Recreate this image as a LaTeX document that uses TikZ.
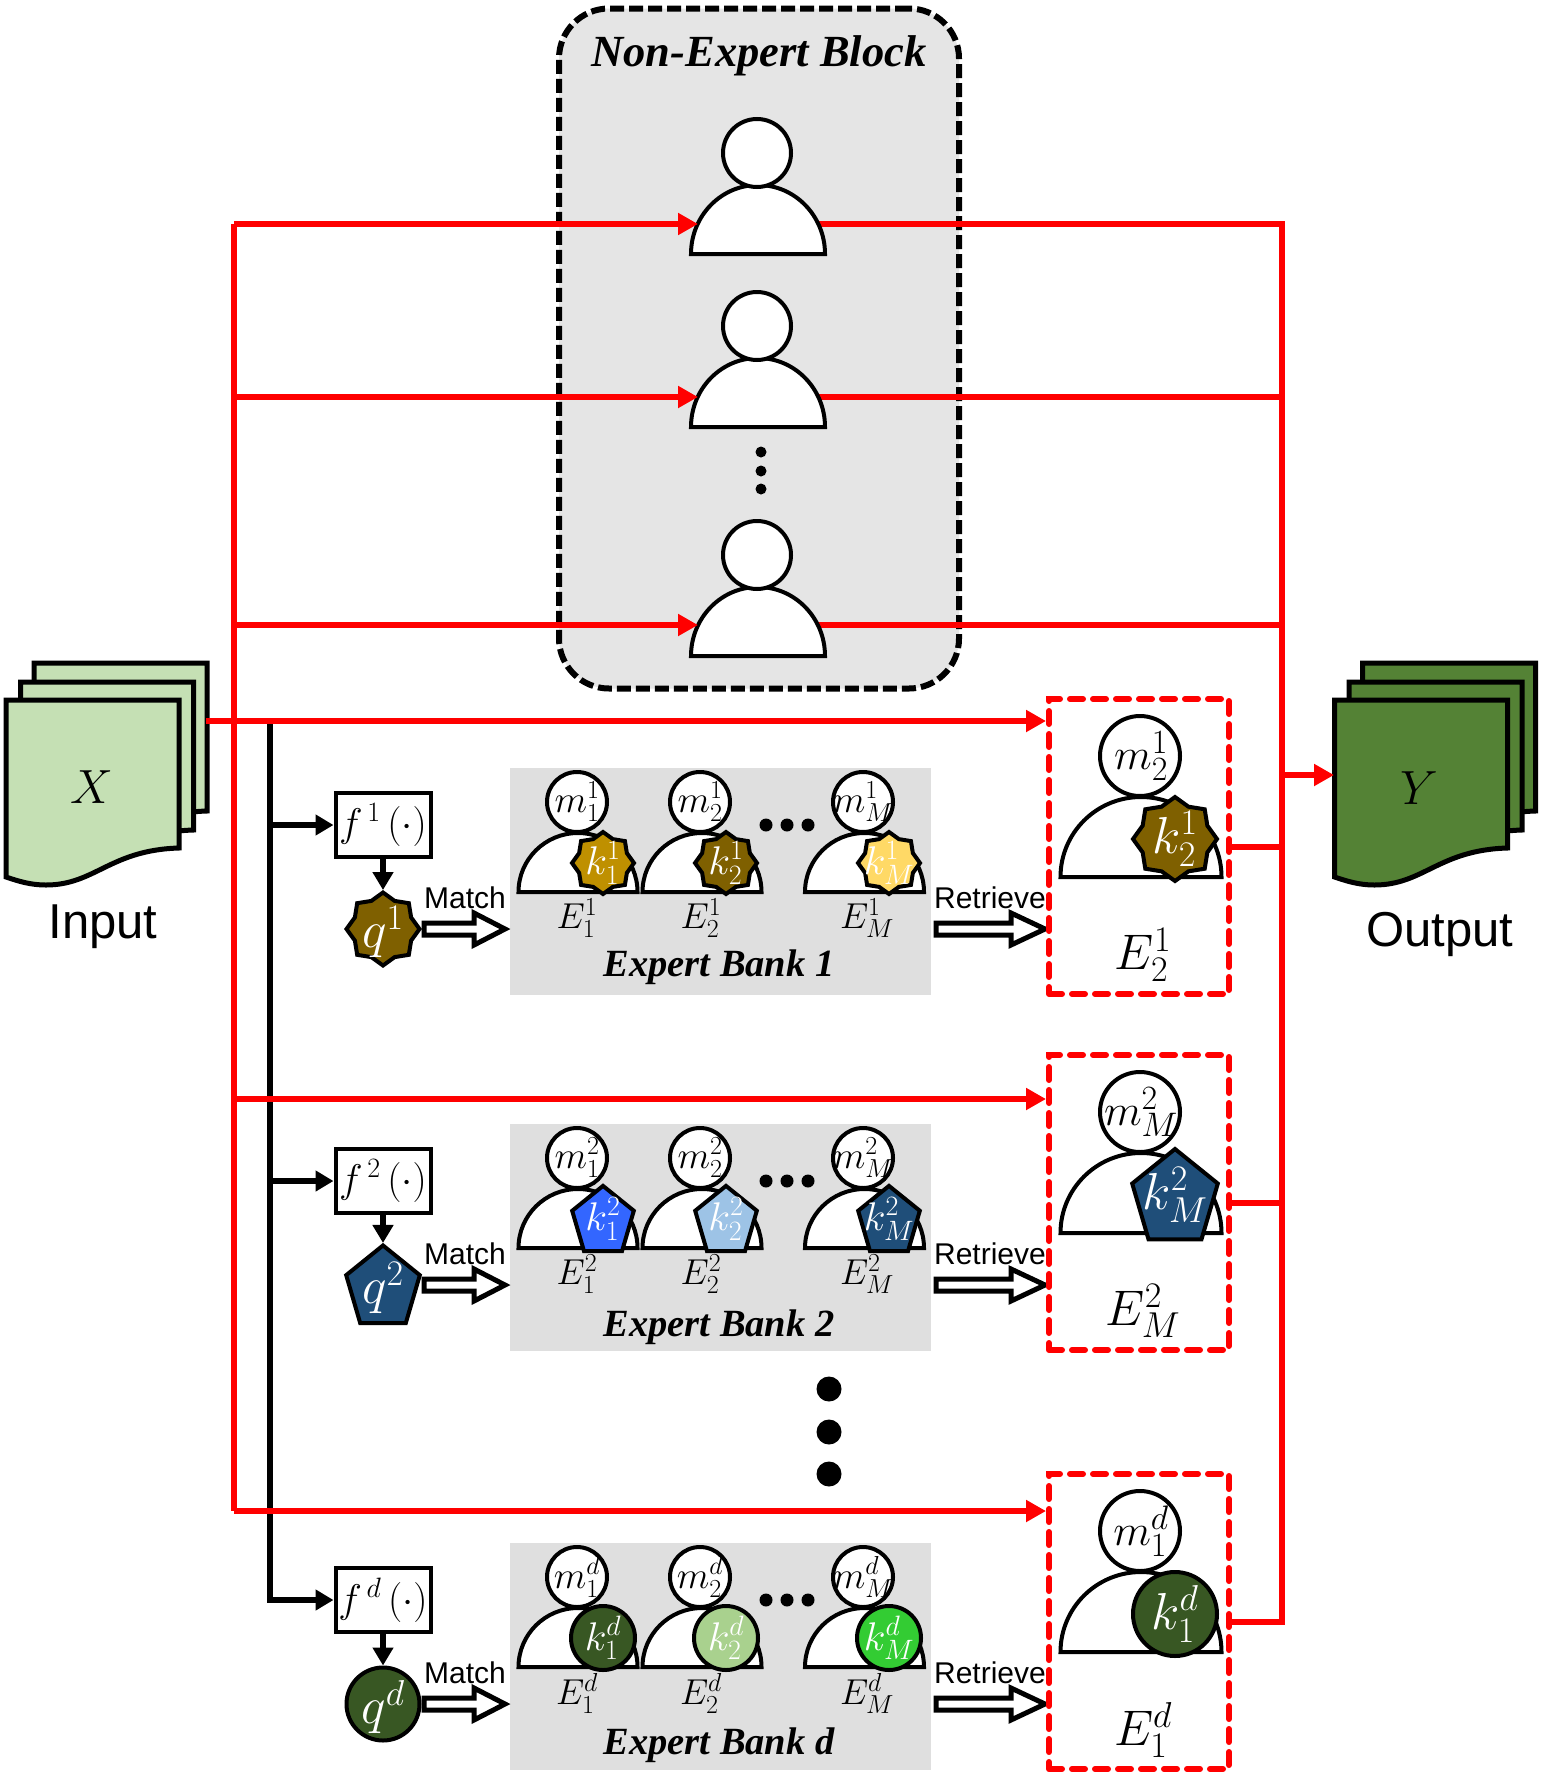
\RequirePackage{fix-cm}
\documentclass[tikz,border=0pt]{standalone}
\usepackage[no-math]{fontspec}
\setmainfont{Liberation Serif}
\newfontfamily\arialfont{Liberation Sans}
\usetikzlibrary{arrows.meta,shapes.geometric,calc}
\DeclareMathSizes{36}{36}{26}{20}
\DeclareMathSizes{38}{38}{26}{20}
\DeclareMathSizes{40}{40}{28}{20}
\DeclareMathSizes{44}{44}{34}{24}
\DeclareMathSizes{50}{50}{36}{24}
\DeclareMathSizes{52}{52}{36}{24}
\newcommand{\fs}[1]{\fontsize{#1}{#1}\selectfont}
\definecolor{redl}{HTML}{FF0000}
\definecolor{bankgray}{HTML}{DFDFDF}
\definecolor{blockgray}{HTML}{E5E5E5}
\definecolor{inputg}{HTML}{C5E0B4}
\definecolor{outputg}{HTML}{548235}
\definecolor{golddark}{HTML}{7F6000}
\definecolor{goldmid}{HTML}{BF9000}
\definecolor{goldlight}{HTML}{FFD966}
\definecolor{bluedark}{HTML}{1F4E79}
\definecolor{bluemid}{HTML}{3366FF}
\definecolor{bluelight}{HTML}{9DC3E6}
\definecolor{greendark}{HTML}{385723}
\definecolor{greenlight}{HTML}{A9D18E}
\definecolor{greenmid}{HTML}{33CC33}
\tikzset{
  redline/.style={draw=redl,line width=6.5pt},
  redarrow/.style={redline,-{Triangle[length=20pt,width=21pt]}},
  blackarrow/.style={draw=black,line width=6pt,-{Triangle[length=18pt,width=20pt]}},
  sheet/.style={draw=black,line width=5pt},
  outl/.style={draw=black,line width=4pt,fill=white},
  headc/.style={circle,outl,inner sep=0pt,outer sep=0pt,minimum size=2*#1},
  starsh/.style={star,star points=8,star point ratio=1.2,draw=black,line width=4pt,inner sep=0pt,minimum size=2*#1},
  pentsh/.style={regular polygon,regular polygon sides=5,draw=black,line width=4pt,inner sep=0pt,minimum size=2*#1,xscale=.9,yshift={-.08*#1},transform shape},
  circsh/.style={circle,draw=black,line width=4pt,inner sep=0pt,minimum size=2*#1},
  hollow/.style={draw=black,line width=5pt,fill=white,miter limit=20},
  rbox/.style={draw=redl,line width=6pt,dash pattern=on 13pt off 10pt,line cap=round,rectangle,inner sep=0pt,minimum width=180pt,minimum height=295pt},
  fbox/.style={rectangle,outl,inner sep=0pt,minimum width=95pt,minimum height=64pt,font=\fs{40}},
  titl/.style={font=\fs{38.5}\bfseries\itshape,inner sep=0pt},
  sanslab/.style={font=\arialfont\fs{30},inner sep=0pt},
  biglab/.style={font=\arialfont\fs{49},inner sep=0pt},
  mlab/.style={font=\fs{38},inner sep=0pt},
  elab/.style={font=\fs{36},inner sep=0pt},
  klab/.style={font=\fs{40},inner sep=0pt,text=white},
}
% half-disc body: centre x, base y, rx, ry
\newcommand{\bodyshape}[4]{\draw[outl] ({#1-#3},#2) .. controls ({#1-#3},{#2-.552*#4}) and ({#1-.552*#3},{#2-#4}) .. (#1,{#2-#4}) .. controls ({#1+.552*#3},{#2-#4}) and ({#1+#3},{#2-.552*#4}) .. ({#1+#3},#2) -- cycle;}
\newcommand{\sheetshape}[3]{\draw[sheet,fill=#3,shift={(#1,#2)}] (6,700) -- (179,700) -- (179,848) .. controls (110,850) and (95,885) .. (46,885) .. controls (30,885) and (18,881) .. (6,877) -- cycle;}
\newcommand{\plainperson}[2]{\bodyshape{758}{#2}{67}{69}\node[headc=34pt] (#1) at (757,{#2-101}) {};}
\newcommand{\hollowarrow}[4]{\draw[hollow] (#1,{#4-6}) -- (#2,{#4-6}) -- (#2,{#4-16}) -- (#3,#4) -- (#2,{#4+16}) -- (#2,{#4+6}) -- (#1,{#4+6}) -- cycle;}
% one expert in a bank: id, head x, body x, k x, E x, sub, colour
\newcommand{\bankexpert}[7]{%
  \bodyshape{#3}{892+\rowdy}{59.5}{59}
  \node[headc=30pt] (h#1) at (#2,802+\rowdy) {};
  \node[mlab] (m#1) at (h#1) {$m_{#6}^{\rowsup}$};
  \node[\rowshape=\ksize,fill=#7] (k#1) at (#4,863+\rowdy) {};
  \node[klab] (kt#1) at (#4,863+\rowdy) {$k_{#6}^{\rowsup}$};
  \node[elab] (e#1) at (#5,918+\rowdy) {$E_{#6}^{\rowsup}$};
}
% row: id, dy, sup, shape, qcol, c1, c2, c3, title
\newcommand{\bankrow}[9]{%
  \def\rowdy{#2}\def\rowsup{#3}\def\rowshape{#4}%
  \fill[bankgray] (510,767.5+#2) rectangle (931,994.5+#2);
  \node[fbox] (f#1) at (383,825+#2) {$f^{\,#3}\,(\cdot)$};
  \ifnum#1<3 \draw[blackarrow] (270,825+#2) -- (f#1.west);\fi
  \node[#4=\qsize,fill=#5] (q#1) at (383,929+#2) {};
  \node[font=\fs{52},text=white,inner sep=0pt] (qt#1) at (383,932+#2) {$q^{#3}$};
  \draw[blackarrow,line width=6pt] (f#1.south) -- (q#1.north);
  \node[sanslab] (match#1) at (465,898+#2) {Match};
  \hollowarrow{424}{474}{505}{929+#2}
  \bankexpert{#1a}{577}{578}{603}{577}{1}{#6}
  \bankexpert{#1b}{700}{702}{726}{701}{2}{#7}
  \bankexpert{#1c}{863}{864.5}{889}{867}{M}{#8}
  \fill (766,825+#2) circle (6.5pt) (787,825+#2) circle (6.5pt) (808,825+#2) circle (6.5pt);
  \node[titl] (bank#1) at (719,967+#2+\tdy) {#9};
  \node[sanslab] (retr#1) at (990,898+#2) {Retrieve};
  \hollowarrow{936}{1011}{1045}{929+#2}
}
% retrieved expert: id, dy, sup, sub, shape, colour, radius
\newcommand{\bigexpert}[7]{%
  \node[rbox] (bx#1) at (1139,846.5+#2) {};
  \bodyshape{1141}{877+#2}{80.5}{80}
  \node[headc=40pt] (bh#1) at (1140,756+#2) {};
  \node[font=\fs{44},inner sep=0pt] (bm#1) at (1141,756+#2) {$m_{#4}^{#3}$};
  \node[#5=#7,fill=#6] (bk#1) at (1175,839+#2) {};
  \node[font=\fs{52},text=white,inner sep=0pt] (bkt#1) at (1175,839+#2) {$k_{#4}^{#3}$};
  \node[font=\fs{50},inner sep=0pt] (be#1) at (1143,955+#2) {$E_{#4}^{#3}$};
}
\begin{document}
\begin{tikzpicture}[x=1pt,y=-1pt]
\useasboundingbox (0,0) rectangle (1543,1772);
\fill[white] (0,0) rectangle (1543,1772);
% non-expert block
\node[rectangle,rounded corners=50pt,draw=black,fill=blockgray,line width=6pt,dash pattern=on 14pt off 5pt,minimum width=400pt,minimum height=680pt,inner sep=0pt] (block) at (759,348.5) {};
\node[font=\fs{44.5}\bfseries\itshape,inner sep=0pt] (blocktitle) at (759,56) {Non-Expert Block};
% documents
\sheetshape{28}{-37}{inputg}
\sheetshape{14.5}{-18}{inputg}
\sheetshape{0}{0}{inputg}
\node[font=\fs{48},inner sep=0pt] (x) at (92,787) {$X$};
\node[biglab] (input) at (103,926.5) {Input};
\sheetshape{1356.5}{-37}{outputg}
\sheetshape{1343}{-18}{outputg}
\sheetshape{1328.5}{0}{outputg}
\node[font=\fs{48},inner sep=0pt] (y) at (1419.5,788) {$Y$};
\node[biglab] (output) at (1440,934.5) {Output};
% coordinates of the buses
\coordinate (ltop) at (234,224);
\coordinate (lbot) at (234,1511);
\coordinate (rtop) at (1282,224);
\coordinate (rbot) at (1282,1622);
\coordinate (inhub) at (206,721);
\coordinate (rowa) at (1282,847);
\coordinate (rowb) at (1282,1203);
\coordinate (levb) at (234,1099);
\coordinate (outhub) at (1282,775);
\coordinate (outtip) at (1334,775);
\coordinate (pinA) at (698,224);
\coordinate (pinB) at (698,397);
\coordinate (pinC) at (698,625);
\coordinate (poutB) at (800,397);
\coordinate (poutC) at (800,625);
\coordinate (lB) at (234,397);
\coordinate (lC) at (234,625);
\coordinate (rB) at (1282,397);
\coordinate (rC) at (1282,625);
% red lines behind the persons
\draw[redline] (poutB) -- (rB);
\draw[redline] (poutC) -- (rC);
% non-expert persons
\draw[redline] (800,224) -- (rtop) -- (rbot) -- (1229,1622);
\plainperson{pa}{254}
\plainperson{pb}{427}
\plainperson{pc}{656}
\fill (761,452) circle (5.5pt) (761,471) circle (5.5pt) (761,489) circle (5.5pt);
\draw[redline] (ltop) -- (lbot);
\draw[redarrow] (ltop) -- (pinA);
\draw[redarrow] (lB) -- (pinB);
\draw[redarrow] (lC) -- (pinC);
% rows
\def\tdy{0}\def\qsize{36.5pt}\def\ksize{31pt}
\bankrow{1}{0}{1}{starsh}{golddark}{goldmid}{golddark}{goldlight}{Expert Bank 1}
\def\tdy{4}\def\qsize{43pt}\def\ksize{36pt}
\bankrow{2}{356}{2}{pentsh}{bluedark}{bluemid}{bluelight}{bluedark}{Expert Bank 2}
\def\tdy{3}\def\qsize{36.5pt}\def\ksize{32pt}
\bankrow{3}{775}{d}{circsh}{greendark}{greendark}{greenlight}{greenmid}{Expert Bank d}
\draw[blackarrow] (270,724) -- (270,1600) -- (f3.west);
\bigexpert{1}{0}{1}{2}{starsh}{golddark}{42pt}
\bigexpert{2}{356}{2}{M}{pentsh}{bluedark}{50pt}
\bigexpert{3}{775}{d}{1}{circsh}{greendark}{42pt}
% input to retrieved boxes
\draw[redline] (inhub) -- (300,721);
\draw[redarrow] (300,721) -- (bx1.west |- inhub);
\draw[redarrow] (levb) -- (bx2.west |- levb);
\draw[redarrow] (lbot) -- (bx3.west |- lbot);
% retrieved boxes to output bus
\draw[redline] (bx1.east |- rowa) -- (rowa);
\draw[redline] (bx2.east |- rowb) -- (rowb);
\draw[redarrow] (outhub) -- (outtip);
% big dots
\fill (829,1389) circle (12.5pt) (829,1432) circle (12.5pt) (829,1474) circle (12.5pt);
\end{tikzpicture}
\end{document}
